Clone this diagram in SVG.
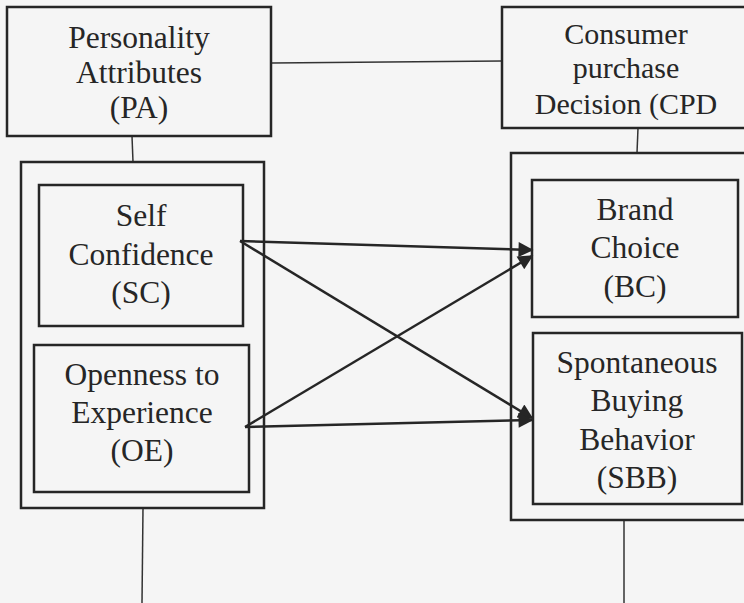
<svg xmlns="http://www.w3.org/2000/svg" width="744" height="603" viewBox="0 0 744 603">
<style>
.box{fill:none;stroke:#262626;stroke-width:2.5}
.thin{fill:none;stroke:#333;stroke-width:1.5}
.arr{fill:none;stroke:#262626;stroke-width:2.5}
text{font-family:"Liberation Serif","Times New Roman",serif;font-size:31.5px;fill:#262626;text-anchor:middle}
.c{font-size:30px}
</style>
<defs>
<marker id="ah" viewBox="0 0 10 10" refX="9" refY="5" markerWidth="7" markerHeight="6" markerUnits="strokeWidth" orient="auto">
<path d="M0,0 L10,5 L0,10 z" fill="#262626"/>
</marker>
</defs>
<rect width="744" height="603" fill="#f5f5f5"/>
<g id="connectors">
<line class="thin" x1="272" y1="63" x2="502" y2="61"/>
<line class="thin" x1="132" y1="136" x2="133" y2="162"/>
<line class="thin" x1="638" y1="128" x2="637" y2="153"/>
<line class="thin" x1="143" y1="508" x2="142" y2="603"/>
<line class="thin" x1="624" y1="520" x2="624" y2="603"/>
<line class="arr" x1="240" y1="241" x2="532" y2="250" marker-end="url(#ah)"/>
<line class="arr" x1="240" y1="241" x2="532" y2="418" marker-end="url(#ah)"/>
<line class="arr" x1="245" y1="427" x2="532" y2="256" marker-end="url(#ah)"/>
<line class="arr" x1="245" y1="427" x2="532" y2="420" marker-end="url(#ah)"/>
</g>
<g id="PA">
<rect class="box" x="7" y="7" width="264" height="129"/>
<text x="139" y="48">Personality</text>
<text x="139" y="83">Attributes</text>
<text x="139" y="118">(PA)</text>
</g>
<g id="CPD">
<rect class="box" x="502" y="7" width="250" height="121"/>
<text class="c" x="626" y="44">Consumer</text>
<text class="c" x="626" y="78">purchase</text>
<text class="c" x="626" y="114">Decision (CPD</text>
</g>
<g id="PA_group">
<rect class="box" x="21" y="162" width="243" height="346"/>
</g>
<g id="SC">
<rect class="box" x="39" y="185" width="204" height="141"/>
<text x="141" y="226">Self</text>
<text x="141" y="265">Confidence</text>
<text x="141" y="303">(SC)</text>
</g>
<g id="OE">
<rect class="box" x="34" y="345" width="215" height="147"/>
<text x="142" y="385">Openness to</text>
<text x="142" y="423">Experience</text>
<text x="142" y="461">(OE)</text>
</g>
<g id="CPD_group">
<rect class="box" x="511" y="153" width="250" height="367"/>
</g>
<g id="BC">
<rect class="box" x="532" y="180" width="206" height="137"/>
<text x="635" y="220">Brand</text>
<text x="635" y="258">Choice</text>
<text x="635" y="297">(BC)</text>
</g>
<g id="SBB">
<rect class="box" x="533" y="333" width="209" height="171"/>
<text x="637" y="373">Spontaneous</text>
<text x="637" y="411">Buying</text>
<text x="637" y="450">Behavior</text>
<text x="637" y="488">(SBB)</text>
</g>
</svg>
